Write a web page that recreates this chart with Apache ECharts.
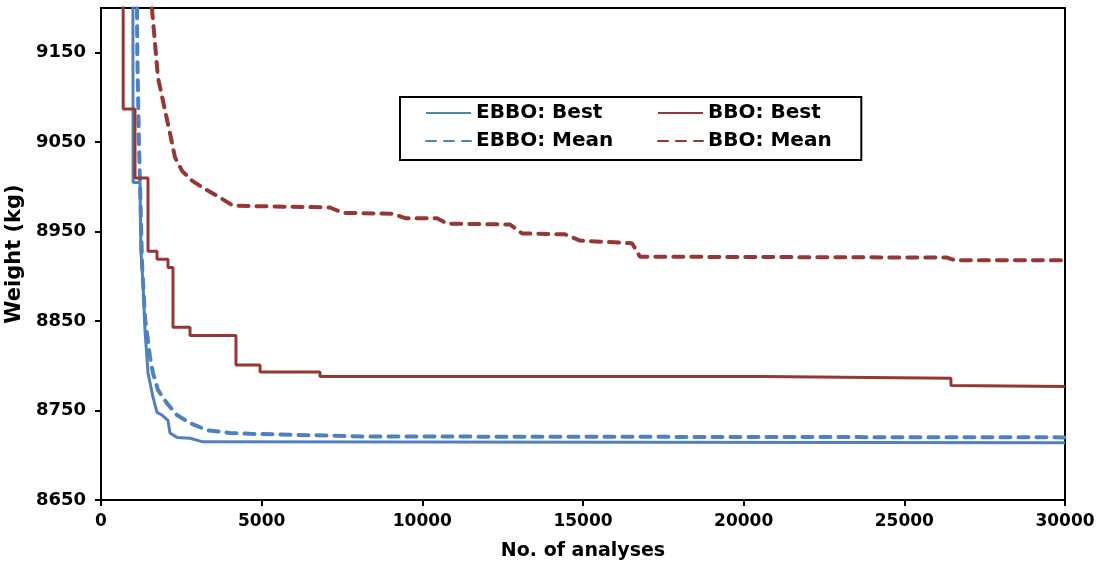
<!DOCTYPE html>
<html>
<head>
<meta charset="utf-8">
<script src="https://cdn.jsdelivr.net/npm/echarts@6/dist/echarts.min.js"></script>
<style>
html,body{margin:0;padding:0;background:#fff;}
#chart{width:1108px;height:570px;}
</style>
</head>
<body>
<div id="chart"></div>
<script>
// ---- data (x = No. of analyses, y = Weight in kg) ----
const seriesNames = ['EBBO: Best', 'EBBO: Mean', 'BBO: Best', 'BBO: Mean'];
const xTicks = [0, 5000, 10000, 15000, 20000, 25000, 30000];
const yTicks = [8650, 8750, 8850, 8950, 9050, 9150];

const ebboBest = [[990,9260],[1000,9005],[1214,9005],[1240,8929],[1307,8892],[1369,8840],[1463,8792],[1618,8765],[1743,8748],[1898,8745],[2085,8739],[2147,8725],[2365,8720],[2770,8719],[3174,8715],[30000,8714]];
const ebboMean = [[1110,9260],[1130,9150],[1180,9050],[1214,9005],[1276,8915],[1369,8854],[1525,8810],[1618,8792],[1774,8773],[2054,8758],[2365,8745],[2770,8736],[3299,8728],[4014,8725],[4637,8724],[8278,8721],[30000,8720]];
const bboBest = [[690,9260],[690,9087],[1058,9087],[1058,9010],[1463,9010],[1463,8928],[1743,8928],[1743,8919],[2085,8919],[2085,8910],[2240,8910],[2240,8843],[2770,8843],[2770,8834],[4200,8834],[4200,8801],[4950,8801],[4950,8793],[6815,8793],[6815,8788],[20570,8788],[20570,8786],[26450,8786],[26450,8778],[30000,8777]];
const bboMean = [[1540,9240],[1587,9199],[1774,9122],[1929,9096],[2147,9060],[2303,9033],[2521,9018],[2832,9007],[3174,8999],[3703,8988],[4108,8979],[7126,8977],[7531,8971],[9087,8970],[9460,8965],[10456,8965],[10768,8959],[12728,8958],[13102,8948],[14440,8947],[14906,8940],[16525,8937],[16774,8922],[26328,8921],[26577,8918],[30000,8918]];

const BLUE = '#4F81BD';
const RED = '#953735';
const FONT = 'DejaVu Sans';

const chart = echarts.init(document.getElementById('chart'), null, {renderer: 'canvas'});

const legendText = {fontFamily: FONT, fontWeight: 'bold', fontSize: 20, color: '#000', lineHeight: 18};

function mkSeries(name, data, color, dashed) {
  return {
    name: name,
    type: 'line',
    data: data,
    symbol: 'none',
    showSymbol: false,
    clip: true,
    animation: false,
    lineStyle: {
      color: color,
      width: dashed ? 4 : 3,
      type: dashed ? [10, 8] : 'solid',
      cap: dashed ? 'round' : 'butt'
    },
    itemStyle: {color: color}
  };
}

const plainLabel = function (v) { return String(v); };

chart.setOption({
  backgroundColor: '#fff',
  animation: false,
  grid: {left: 101, right: 43, top: 8, bottom: 70, show: true, borderColor: '#000', borderWidth: 2, containLabel: false, outerBoundsMode: 'none'},
  legend: [
    {
      data: [seriesNames[0], seriesNames[1]],
      orient: 'vertical',
      left: 400, top: 97,
      itemWidth: 45, itemHeight: 14, itemGap: 8,
      padding: [6, 248, 9, 25],
      borderColor: '#000', borderWidth: 2,
      backgroundColor: '#fff',
      itemStyle: {opacity: 0},
      textStyle: legendText,
      selectedMode: false
    },
    {
      data: [seriesNames[2], seriesNames[3]],
      orient: 'vertical',
      left: 657, top: 97,
      itemWidth: 45, itemHeight: 14, itemGap: 8,
      padding: [6, 0, 9, 0],
      itemStyle: {opacity: 0},
      textStyle: legendText,
      selectedMode: false
    }
  ],
  xAxis: {
    type: 'value',
    min: xTicks[0], max: xTicks[xTicks.length - 1], interval: 5000,
    name: 'No. of analyses',
    nameLocation: 'middle',
    nameGap: 42,
    nameTextStyle: {fontFamily: FONT, fontWeight: 'bold', fontSize: 19, color: '#000'},
    axisLine: {show: true, onZero: false, lineStyle: {color: '#000', width: 2}},
    axisTick: {show: true, inside: false, length: 6, lineStyle: {color: '#000', width: 2}},
    splitLine: {show: false},
    axisLabel: {fontFamily: FONT, fontWeight: 'bold', fontSize: 17, color: '#000', margin: 13, formatter: plainLabel}
  },
  yAxis: {
    type: 'value',
    min: yTicks[0], max: 9200,
    name: 'Weight (kg)',
    nameLocation: 'middle',
    nameGap: 68,
    nameTextStyle: {fontFamily: FONT, fontWeight: 'bold', fontSize: 21, color: '#000'},
    axisLine: {show: true, onZero: false, lineStyle: {color: '#000', width: 2}},
    axisTick: {show: true, inside: false, length: 6, customValues: yTicks, lineStyle: {color: '#000', width: 2}},
    splitLine: {show: false},
    axisLabel: {fontFamily: FONT, fontWeight: 'bold', fontSize: 18, color: '#000', margin: 15, customValues: yTicks, formatter: plainLabel}
  },
  series: [
    mkSeries(seriesNames[0], ebboBest, BLUE, false),
    mkSeries(seriesNames[1], ebboMean, BLUE, true),
    mkSeries(seriesNames[2], bboBest, RED, false),
    mkSeries(seriesNames[3], bboMean, RED, true)
  ]
});
</script>
</body>
</html>
